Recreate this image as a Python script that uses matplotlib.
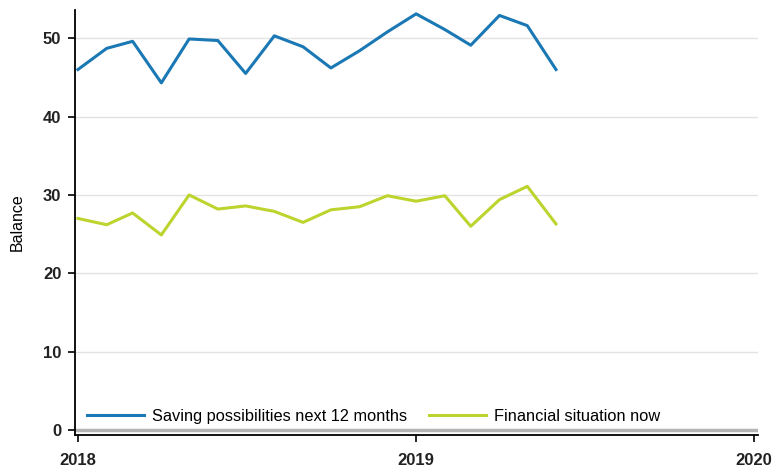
import datetime as dt
import matplotlib
matplotlib.use("Agg")
import matplotlib.pyplot as plt
import matplotlib.dates as mdates

plt.rcParams['font.family'] = ['Liberation Sans', 'DejaVu Sans']

# monthly observations, Jan 2018 - Jun 2019
months = [dt.date(2018 + (i // 12), i % 12 + 1, 1) for i in range(18)]
saving = [46.0, 48.7, 49.6, 44.3, 49.9, 49.7, 45.5, 50.3, 48.9, 46.2,
          48.4, 50.8, 53.1, 51.1, 49.1, 52.9, 51.6, 46.0]
financial = [27.0, 26.2, 27.7, 24.9, 30.0, 28.2, 28.6, 27.9, 26.5, 28.1,
             28.5, 29.9, 29.2, 29.9, 26.0, 29.4, 31.1, 26.3]
labels = ['Saving possibilities next 12 months', 'Financial situation now']
yticks = [0, 10, 20, 30, 40, 50]
year_ticks = [dt.date(2018, 1, 1), dt.date(2019, 1, 1), dt.date(2020, 1, 1)]

fig = plt.figure(figsize=(7.75, 4.74), dpi=100)
ax = fig.add_axes([0.097, 0.082, 0.881, 0.897])

# grid
for y in yticks[1:]:
    ax.axhline(y, color='#e3e3e3', lw=1.0, zorder=0)
ax.axhline(0, color='#b4b4b4', lw=2.5, zorder=1)

ax.plot(months, saving, color='#1a78b4', lw=2.2, label=labels[0], zorder=3)
ax.plot(months, financial, color='#bdd42e', lw=2.2, label=labels[1], zorder=3)

ax.set_ylim(-0.64, 53.6)
ax.set_xlim(dt.date(2017, 12, 29), dt.date(2020, 1, 5))
ax.set_yticks(yticks)
ax.set_xticks(year_ticks)
ax.xaxis.set_major_formatter(mdates.DateFormatter('%Y'))
ax.tick_params(axis='both', direction='out', length=5, width=1.2,
               labelsize=12, colors='black')
ax.tick_params(axis='x', pad=8)
ax.tick_params(axis='y', pad=5)
for lbl in ax.get_xticklabels() + ax.get_yticklabels():
    lbl.set_fontweight('bold')
    lbl.set_color('#222222')
ax.set_ylabel('Balance', fontsize=11.5, labelpad=13)

for s in ['top', 'right']:
    ax.spines[s].set_visible(False)
for s in ['left', 'bottom']:
    ax.spines[s].set_linewidth(1.3)

ax.legend(loc='lower left', bbox_to_anchor=(0.0, 0.0), ncol=2, frameon=False,
          fontsize=11.8, handlelength=3.5, handletextpad=0.5, columnspacing=1.3,
          borderaxespad=0.3)

fig.savefig('out.png', dpi=100)
